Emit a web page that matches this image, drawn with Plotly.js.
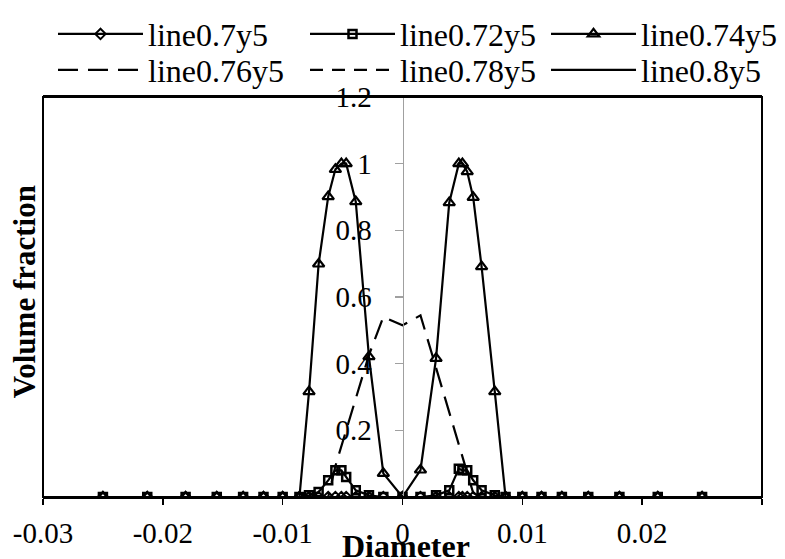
<!DOCTYPE html>
<html>
<head>
<meta charset="utf-8">
<script src="https://cdn.plot.ly/plotly-3.0.1.min.js"></script>
<style>html,body{margin:0;padding:0;background:#fff;}#chart{width:785px;height:559px;}</style>
</head>
<body>
<div id="chart"></div>
<script>
// Diameter grid (shared by all series)
const diameter = [-0.025, -0.0213, -0.0181, -0.0155, -0.0133, -0.0116, -0.0100, -0.0086, -0.0078, -0.0070,
  -0.0062, -0.0056, -0.0051, -0.0047, -0.0039, -0.0028, -0.0016, 0, 0.0015, 0.0028,
  0.0039, 0.0047, 0.0050, 0.0054, 0.0059, 0.0066, 0.0077, 0.0086, 0.0100, 0.0116,
  0.0133, 0.0155, 0.0181, 0.0213, 0.025];

const line070 = [0,0,0,0,0,0,0,0,0,0, 0,0,0,0,0,0,0,0,0,0, 0,0,0,0,0,0,0,0,0,0, 0,0,0,0,0];
const line072 = [0,0,0,0,0,0,0,0,0.005,0.015, 0.05,0.08,0.08,0.06,0.02,0.005,0,0,0,0.005, 0.02,0.085,0.08,0.08,0.05,0.02,0.005,0,0,0, 0,0,0,0,0];
const line074 = [0,0,0,0,0,0,0,0,0.316,0.699, 0.901,0.983,1.0,1.0,0.886,0.421,0.071,0,0.081,0.416, 0.883,1.0,1.0,0.976,0.899,0.691,0.316,0,0,0, 0,0,0,0,0];
const line076 = [0,0,0,0,0,0,0,0,0,0, 0,0.093,0.153,0.2,0.294,0.426,0.54,0.515,0.545,0.388, 0.255,0.158,0.12,0.072,0.012,0,0,0,0,0, 0,0,0,0,0];
const line078 = [0,0,0,0,0,0,0,0,0,0, 0,0,0,0,0,0,0,0,0,0, 0,0,0,0,0,0,0,0,0,0, 0,0,0,0,0];
const line080 = [0,0,0,0,0,0,0,0,0,0, 0,0,0,0,0,0,0,0,0,0, 0,0,0,0,0,0,0,0,0,0, 0,0,0,0,0];

const seriesNames = ['line0.7y5','line0.72y5','line0.74y5','line0.76y5','line0.78y5','line0.8y5'];
const xTickVals = [-0.03,-0.02,-0.01,0,0.01,0.02,0.03];
const xTickText = ['-0.03','-0.02','-0.01','0','0.01','0.02','0.03'];
const yTickVals = [0.2,0.4,0.6,0.8,1.0,1.2];
const yTickText = ['0.2','0.4','0.6','0.8','1','1.2'];

const serif = 'Liberation Serif, Times New Roman, serif';
const lw = 2.2;

// drawing order: diamonds, triangles, squares on top at the baseline
const traces = [
  {x: diameter, y: line070, name: seriesNames[0], mode: 'lines+markers', legend: 'legend',
   line: {color: '#000', width: lw},
   marker: {symbol: 'diamond-open', size: 8, color: '#000', line: {color: '#000', width: 2}}},
  {x: diameter, y: line074, name: seriesNames[2], mode: 'lines+markers', legend: 'legend3',
   line: {color: '#000', width: lw},
   marker: {symbol: 'triangle-up-open', size: 10, color: '#000', line: {color: '#000', width: 2.2}}},
  {x: diameter, y: line072, name: seriesNames[1], mode: 'lines+markers', legend: 'legend2',
   line: {color: '#000', width: lw},
   marker: {symbol: 'square-open', size: 8, color: '#000', line: {color: '#000', width: 2.5}}},
  {x: diameter, y: line076, name: seriesNames[3], mode: 'lines', legend: 'legend4',
   line: {color: '#000', width: lw, dash: '20px,10px'}},
  {x: diameter, y: line078, name: seriesNames[4], mode: 'lines', legend: 'legend5',
   line: {color: '#000', width: lw, dash: '13px,9px'}},
  {x: diameter, y: line080, name: seriesNames[5], mode: 'lines', legend: 'legend6',
   line: {color: '#000', width: lw}}
];

function leg(x, y) {
  return {x: x, y: y, xanchor: 'left', yanchor: 'top', orientation: 'v',
    font: {family: serif, size: 32, color: '#000'}, itemwidth: 85,
    bgcolor: 'rgba(0,0,0,0)', borderwidth: 0};
}
const col = [0.0139, 0.3644, 0.6996];
const row = [1.226, 1.136];

const layout = {
  width: 785, height: 559,
  margin: {l: 43, r: 23, t: 97, b: 62, autoexpand: false},
  paper_bgcolor: '#fff', plot_bgcolor: '#fff',
  showlegend: true,
  legend: leg(col[0], row[0]),
  legend2: leg(col[1], row[0]),
  legend3: leg(col[2], row[0]),
  legend4: leg(col[0], row[1]),
  legend5: leg(col[1], row[1]),
  legend6: leg(col[2], row[1]),
  xaxis: {
    range: [-0.03, 0.03], tickvals: xTickVals, ticktext: xTickText,
    showline: true, linecolor: '#000', linewidth: 2, mirror: true,
    ticks: 'outside', ticklen: 6, tickcolor: '#000', tickwidth: 1.5,
    ticklabelstandoff: 3,
    showgrid: false, zeroline: false,
    tickfont: {family: serif, size: 29, color: '#000'}
  },
  yaxis: {
    range: [0, 1.2], tickvals: yTickVals, ticktext: yTickText,
    anchor: 'free', position: 0.5, side: 'left',
    showline: true, linecolor: '#a0a0a0', linewidth: 1.5,
    ticks: 'outside', ticklen: 8, tickcolor: '#a0a0a0', tickwidth: 1.5,
    ticklabelstandoff: 17,
    showgrid: false, zeroline: false,
    tickfont: {family: serif, size: 29, color: '#000'}
  },
  shapes: [
    {type: 'rect', xref: 'paper', yref: 'paper', x0: 0, x1: 1, y0: 0, y1: 1,
     line: {color: '#000', width: 2}, fillcolor: 'rgba(0,0,0,0)', layer: 'above'}
  ],
  annotations: [
    {text: '<b>Volume fraction</b>', xref: 'paper', yref: 'paper', x: -0.026, y: 0.5125,
     xanchor: 'center', yanchor: 'middle', textangle: -90, showarrow: false,
     font: {family: serif, size: 31, color: '#000'}},
    {text: '<b>Diameter</b>', xref: 'paper', yref: 'paper', x: 0.505, y: -0.122,
     xanchor: 'center', yanchor: 'middle', showarrow: false,
     font: {family: serif, size: 32, color: '#000'}}
  ]
};

Plotly.newPlot('chart', traces, layout, {displayModeBar: false, staticPlot: true});
</script>
</body>
</html>
